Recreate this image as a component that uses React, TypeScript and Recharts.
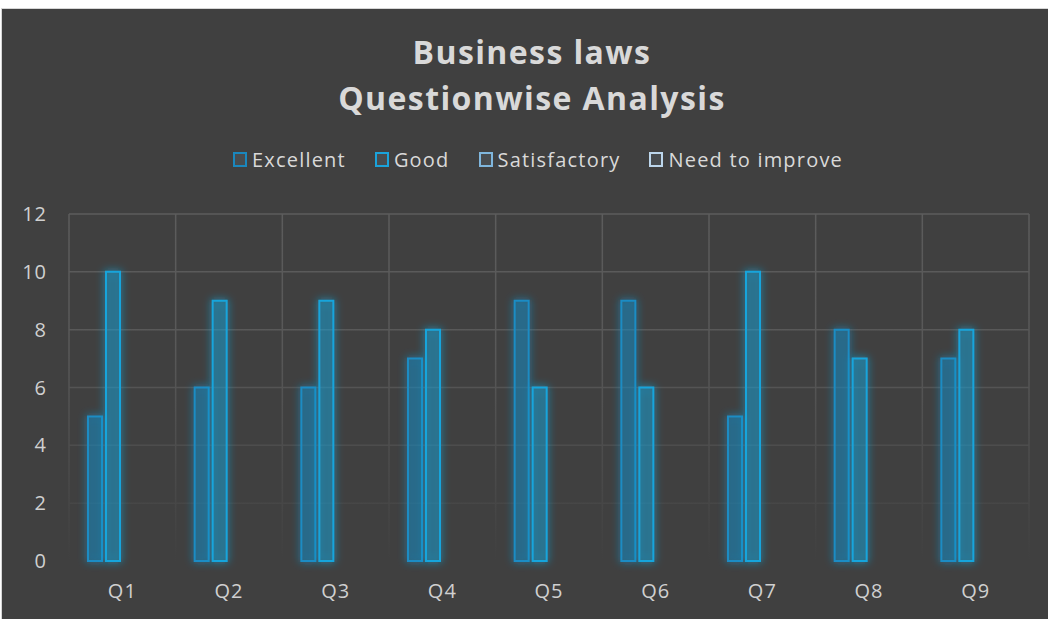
import { BarChart, Bar, XAxis, YAxis, CartesianGrid } from "recharts";

const questions = ["Q1", "Q2", "Q3", "Q4", "Q5", "Q6", "Q7", "Q8", "Q9"];
const excellent = [5, 6, 6, 7, 9, 9, 5, 8, 7];
const good = [10, 9, 9, 8, 6, 6, 10, 7, 8];
const satisfactory = [0, 0, 0, 0, 0, 0, 0, 0, 0];
const needToImprove = [0, 0, 0, 0, 0, 0, 0, 0, 0];
const yTicks = [0, 2, 4, 6, 8, 10, 12];

const seriesList = [
  { key: "Excellent", stroke: "#1a8cc4", fill: "rgba(26,140,196,0.28)", legend: "#1a87bd" },
  { key: "Good", stroke: "#19a5dc", fill: "rgba(25,165,220,0.25)", legend: "#1aa3db" },
  { key: "Satisfactory", stroke: "#7fb6dd", fill: "rgba(127,182,221,0.25)", legend: "#7fb6dd" },
  { key: "Need to improve", stroke: "#bcd6ec", fill: "rgba(188,214,236,0.25)", legend: "#bcd6ec" },
];

const data = questions.map((q, i) => ({
  name: q,
  Excellent: excellent[i],
  Good: good[i],
  Satisfactory: satisfactory[i],
  "Need to improve": needToImprove[i],
}));

const font = "'Open Sans', Inter, sans-serif";
const W = 1046;
const H = 610;
// x axis takes 30px below the plot
const margin = { top: 205, right: 19, bottom: H - 552 - 30, left: 0 };
const tickStyle = { fill: "#d0d0d0", fontSize: 20, fontFamily: font, letterSpacing: 1 };

const App = () => {
  return (
    <div
      style={{
        position: "absolute",
        left: 1,
        top: 8,
        width: 1047,
        height: 611,
        boxSizing: "border-box",
        borderTop: "1px solid #d6d6d6",
        borderLeft: "1px solid #d6d6d6",
        background: "#404040",
        fontFamily: font,
        overflow: "hidden",
      }}
    >
      <div
        style={{
          position: "absolute",
          left: 0,
          width: 1060,
          top: 20,
          textAlign: "center",
          color: "#d9d9d9",
          fontWeight: 700,
          fontSize: 32,
          letterSpacing: 1.4,
          lineHeight: "46px",
        }}
      >
        Business laws
        <br />
        Questionwise Analysis
      </div>
      <div
        style={{
          position: "absolute",
          left: 0,
          width: 1072,
          top: 137,
          display: "flex",
          justifyContent: "center",
          color: "#d9d9d9",
          fontSize: 20,
          letterSpacing: 1.2,
          gap: 29,
        }}
      >
        {seriesList.map((s) => (
          <div key={s.key} style={{ display: "flex", alignItems: "center" }}>
            <span
              style={{
                display: "inline-block",
                width: 10,
                height: 11,
                border: `2px solid ${s.legend}`,
                background: "rgba(120,150,170,0.15)",
                marginRight: 5,
              }}
            />
            {s.key}
          </div>
        ))}
      </div>
      <div style={{ position: "absolute", left: 0, top: 0 }}>
        <BarChart
          width={W}
          height={H}
          data={data}
          margin={margin}
          barCategoryGap={19}
          barGap={4}
        >
          <defs>
            <linearGradient id="gridFade" gradientUnits="userSpaceOnUse" x1="0" y1="205" x2="0" y2="552">
              <stop offset="0" stopColor="#5c5c5c" />
              <stop offset="0.4" stopColor="#585858" />
              <stop offset="0.75" stopColor="#4a4a4a" />
              <stop offset="1" stopColor="#404040" />
            </linearGradient>
            <filter id="glow" x="-80%" y="-12%" width="260%" height="124%">
              <feGaussianBlur in="SourceGraphic" stdDeviation="4" result="blur" />
              <feComponentTransfer in="blur" result="soft">
                <feFuncA type="linear" slope="1.1" />
              </feComponentTransfer>
              <feMerge>
                <feMergeNode in="soft" />
                <feMergeNode in="SourceGraphic" />
              </feMerge>
            </filter>
          </defs>
          <CartesianGrid
            stroke="url(#gridFade)"
            strokeWidth={1.5}
            verticalCoordinatesGenerator={({ offset }: any) =>
              questions.map((_, i) => offset.left + (i * offset.width) / questions.length).concat(offset.left + offset.width)
            }
          />
          <XAxis
            dataKey="name"
            axisLine={false}
            tickLine={false}
            tickSize={0}
            tickMargin={23}
            tick={tickStyle}
          />
          <YAxis
            width={67}
            domain={[0, 12]}
            ticks={yTicks}
            axisLine={false}
            tickLine={false}
            tickSize={0}
            tickMargin={22}
            tick={tickStyle}
          />
          {seriesList.map((s) => (
            <Bar
              key={s.key}
              dataKey={s.key}
              fill={s.fill}
              stroke={s.stroke}
              strokeWidth={2}
              filter="url(#glow)"
              isAnimationActive={false}
            />
          ))}
        </BarChart>
      </div>
    </div>
  );
};

export default App;
